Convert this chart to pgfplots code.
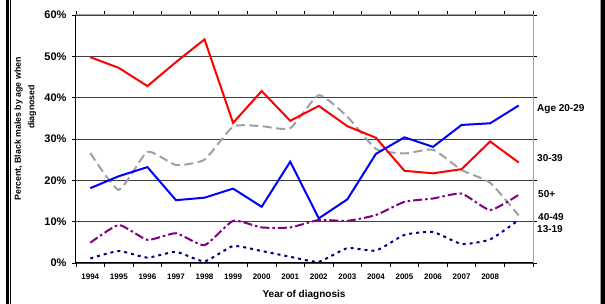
\documentclass[border=0pt]{standalone}
\usepackage{pgfplots}
\pgfplotsset{compat=1.18}
\usepackage{fontspec}
\setmainfont{Liberation Sans}
\definecolor{cgray}{RGB}{160,160,160}
\definecolor{cpurple}{RGB}{128,0,128}
\definecolor{cnavy}{RGB}{0,0,128}
\begin{document}
\begin{tikzpicture}[x=1pt,y=1pt]
\path[use as bounding box] (0,0) rectangle (605,304);
% outer frame
\fill[black] (6.3,0) rectangle (8.8,304);
\fill[black] (9.6,0) rectangle (10.6,304);
\fill[cgray] (599.6,0) rectangle (600.6,304);
\fill[black] (601.2,0) rectangle (605,304);
\begin{axis}[
  at={(76pt,41pt)}, anchor=south west,
  width=457pt, height=248pt, scale only axis,
  xmin=-0.5, xmax=15.5, ymin=0, ymax=60,
  xtick={0,...,14},
  xticklabels={1994,1995,1996,1997,1998,1999,2000,2001,2002,2003,2004,2005,2006,2007,2008},
  minor xtick={-0.5,0.5,...,15.5},
  ytick={0,10,...,60},
  yticklabels={0\%,10\%,20\%,30\%,40\%,50\%,60\%},
  tick align=outside,
  major tick length=4pt, minor tick length=4pt,
  major x tick style={draw=none},
  minor x tick style={black, line width=0.8pt},
  major y tick style={black, line width=0.8pt},
  ymajorgrids,
  major grid style={black!75, line width=0.8pt},
  axis line style={cgray, line width=1pt},
  xticklabel style={font=\fontsize{8}{9}\selectfont\bfseries, yshift=-3pt},
  yticklabel style={font=\fontsize{11}{12}\selectfont\bfseries, xshift=-2pt},
  /pgf/number format/assume math mode=true,
  clip=false,
]
\addplot[cgray, line width=2pt, smooth, tension=0.3, dash pattern=on 9pt off 4.5pt] coordinates {
(0,26.6)(1,17.7)(2,26.9)(3,23.7)(4,25.0)(5,33.0)(6,33.1)(7,32.6)(8,40.6)(9,35.4)(10,27.6)(11,26.5)(12,27.4)(13,22.5)(14,19.4)(15,11.5)};
\addplot[cpurple, line width=2pt, smooth, tension=0.3, dash pattern=on 9pt off 3pt on 2.5pt off 3pt] coordinates {
(0,4.9)(1,9.2)(2,5.6)(3,7.2)(4,4.3)(5,10.2)(6,8.6)(7,8.6)(8,10.4)(9,10.2)(10,11.6)(11,14.8)(12,15.6)(13,16.8)(14,12.8)(15,16.5)};
\addplot[cnavy, line width=2pt, smooth, tension=0.3, dash pattern=on 3pt off 4pt] coordinates {
(0,1.1)(1,2.9)(2,1.3)(3,2.7)(4,0.4)(5,4.1)(6,2.9)(7,1.5)(8,0.3)(9,3.6)(10,3.0)(11,6.8)(12,7.5)(13,4.6)(14,5.7)(15,10.4)};
\addplot[red, line width=2pt] coordinates {
(0,49.8)(1,47.2)(2,42.8)(3,48.6)(4,54.1)(5,33.9)(6,41.6)(7,34.4)(8,38.0)(9,33.1)(10,30.3)(11,22.3)(12,21.7)(13,22.7)(14,29.4)(15,24.3)};
\addplot[blue, line width=2pt] coordinates {
(0,18.1)(1,21.0)(2,23.2)(3,15.2)(4,15.8)(5,18.0)(6,13.6)(7,24.5)(8,10.8)(9,15.4)(10,26.4)(11,30.4)(12,28.1)(13,33.4)(14,33.8)(15,38.1)};
% re-draw left and bottom axis lines in black
\draw[black, line width=1pt] (rel axis cs:0,0) -- (rel axis cs:0,1);
\draw[black, line width=1pt] (rel axis cs:0,0) -- (rel axis cs:1,0);
\end{axis}
\node[rotate=90, font=\fontsize{8.8}{10}\selectfont\bfseries] at (18.5,175) {Percent, Black males by age when};
\node[rotate=90, font=\fontsize{8.8}{10}\selectfont\bfseries] at (32,197) {diagnosed};
\node[font=\fontsize{10}{12}\selectfont\bfseries] at (304,9) {Year of diagnosis};
\begin{scope}[every node/.style={anchor=west, inner sep=0pt, font=\fontsize{10}{12}\selectfont\bfseries}]
\node at (537,195) {Age 20-29};
\node at (537,146.3) {30-39};
\node at (538,109.7) {50+};
\node at (538,86.7) {40-49};
\node at (537,74.7) {13-19};
\end{scope}
\end{tikzpicture}
\end{document}
